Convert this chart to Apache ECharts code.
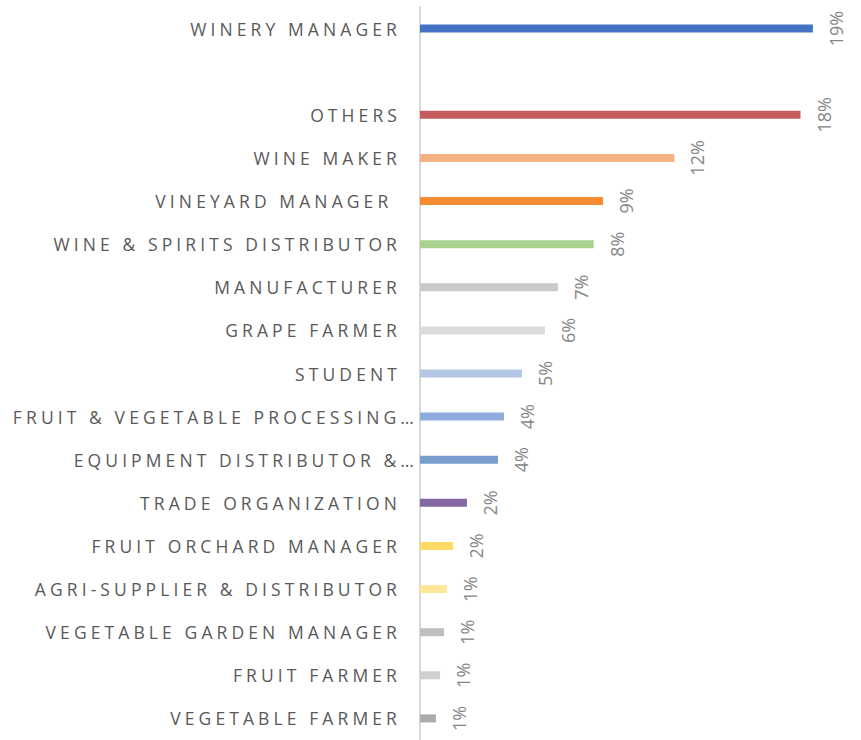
<!DOCTYPE html>
<html>
<head>
<meta charset="utf-8">
<script src="https://cdn.jsdelivr.net/npm/echarts@6/dist/echarts.min.js"></script>
<style>
  html, body { margin: 0; padding: 0; background: #fff; }
  #chart { width: 861px; height: 740px; }
  /* category labels are letter-spaced like the original */
  #chart text[style*="sans-serif"] { letter-spacing: 4.1px; white-space: pre; }
</style>
</head>
<body>
<div id="chart"></div>
<script>
// 类目（含一个空行）
const categories = [
    'WINERY MANAGER', '', 'OTHERS', 'WINE MAKER', 'VINEYARD MANAGER ',
    'WINE & SPIRITS DISTRIBUTOR', 'MANUFACTURER', 'GRAPE FARMER', 'STUDENT',
    'FRUIT & VEGETABLE PROCESSING…', 'EQUIPMENT DISTRIBUTOR &…', 'TRADE ORGANIZATION',
    'FRUIT ORCHARD MANAGER', 'AGRI-SUPPLIER & DISTRIBUTOR', 'VEGETABLE GARDEN MANAGER',
    'FRUIT FARMER', 'VEGETABLE FARMER'
];
const shares = [19.0, null, 18.4, 12.3, 8.85, 8.4, 6.67, 6.04, 4.93, 4.06, 3.77, 2.27, 1.6, 1.3, 1.16, 0.97, 0.77];
const barColors = [
    '#4472c4', '#ffffff', '#c55b5a', '#f4b183', '#f68b33', '#a9d18e', '#c9c9c9', '#dbdbdb',
    '#b4c7e7', '#8faadc', '#799ecd', '#8567a3', '#ffd966', '#ffe699', '#bfbfbf', '#d0cece', '#aeaaaa'
];

let chartDOM = document.getElementById('chart');
let chart = echarts.init(chartDOM, null, { renderer: 'svg' });

// truncated names run a bit past the others, as in the original
const yData = categories.map(c => c.endsWith('…')
    ? { value: c, textStyle: { padding: [0, -17, 0, 0] } }
    : c);

chart.setOption({
    animation: false,
    grid: { left: 420, top: 7, width: 413.6, height: 736 },
    xAxis: {
        type: 'value', min: 0, max: 20, show: false
    },
    yAxis: {
        type: 'category',
        data: yData,
        inverse: true,
        axisTick: { show: false },
        axisLine: { show: true, lineStyle: { color: '#d9d9d9', width: 2 } },
        axisLabel: {
            margin: 19,
            color: '#595959',
            fontSize: 17.5,
            fontFamily: 'Open Sans, sans-serif'
        }
    },
    series: [{
        type: 'bar',
        barWidth: 8,
        data: shares.map((v, i) => ({ value: v, itemStyle: { color: barColors[i] } })),
        label: {
            show: true,
            position: 'right',
            distance: 14,
            rotate: 90,
            align: 'center',
            verticalAlign: 'top',
            color: '#868686',
            fontSize: 18,
            fontFamily: 'Open Sans',
            formatter: (p) => p.value == null ? '' : Math.round(p.value) + '%'
        }
    }]
});
</script>
</body>
</html>
